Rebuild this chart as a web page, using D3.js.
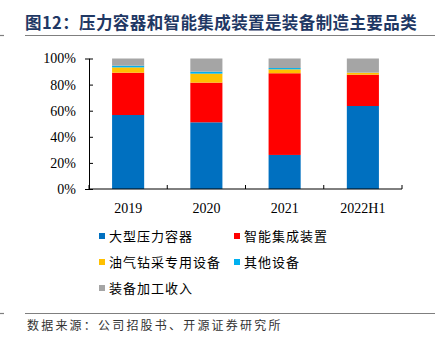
<!DOCTYPE html>
<html><head><meta charset="utf-8">
<script src="https://cdn.jsdelivr.net/npm/d3@7"></script>
<style>body{margin:0;background:#fff}</style>
</head><body>
<script>
const categories = ["2019","2020","2021","2022H1"];
const seriesNames = ["大型压力容器","智能集成装置","油气钻采专用设备","其他设备","装备加工收入"];
const seriesColors = ["#0070C0","#FF0000","#FFC000","#00B0F0","#A5A5A5"];
const vLarge = [56.7, 51.1, 26.1, 63.6];
const vSmart = [32.4, 30.4, 62.6, 24.0];
const vOil   = [4.1, 6.9, 3.0, 1.5];
const vOther = [1.3, 1.5, 1.0, 0.1];
const vProc  = [5.5, 10.1, 7.3, 10.8];
const yTicks = [0,20,40,60,80,100];
const titleText = "图12：压力容器和智能集成装置是装备制造主要品类";
const sourceText = "数据来源：公司招股书、开源证券研究所";

const W=444,H=338;
const svg=d3.select("body").append("svg").attr("width",W).attr("height",H);
const cjk="'Noto Sans CJK SC','Noto Sans',sans-serif";
const serif="'Liberation Serif','Times New Roman',serif";

// title
svg.append("text").attr("x",25).attr("y",29).text(titleText)
  .attr("font-family",cjk).attr("font-weight","bold").attr("font-size",16.5).attr("letter-spacing",0.4).attr("fill","#1F3864");
[[25,435],[0,4]].forEach(([a,b])=>{
  svg.append("line").attr("x1",a).attr("x2",b).attr("y1",35.5).attr("y2",35.5).attr("stroke","#7f7f7f").attr("stroke-width",1.2);
  svg.append("line").attr("x1",a).attr("x2",b).attr("y1",313.5).attr("y2",313.5).attr("stroke","#7f7f7f").attr("stroke-width",1.2);
});
svg.append("text").attr("x",27).attr("y",330).text(sourceText)
  .attr("font-family",cjk).attr("font-size",12).attr("letter-spacing",2.2).attr("fill","#333");

const x=d3.scaleBand().domain(categories).range([89,402]).paddingInner(0.59).paddingOuter(0.295);
const y=d3.scaleLinear().domain([0,100]).range([189,58.5]);

const data=categories.map((c,i)=>({cat:c,v:[vLarge[i],vSmart[i],vOil[i],vOther[i],vProc[i]]}));
const stacked=d3.stack().keys([0,1,2,3,4]).value((d,k)=>d.v[k])(data);

const g=svg.append("g");
stacked.forEach((s,k)=>{
  g.selectAll(null).data(s).enter().append("rect")
    .attr("x",d=>x(d.data.cat)).attr("width",x.bandwidth())
    .attr("y",d=>y(Math.min(d[1],100))).attr("height",d=>Math.max(0,y(d[0])-y(Math.min(d[1],100))))
    .attr("fill",seriesColors[k]);
});

// y axis
const ya=svg.append("g").attr("transform","translate(89,0)").call(d3.axisLeft(y).tickValues(yTicks).tickFormat(d=>d+"%").tickSize(4));
ya.select(".domain").attr("stroke","#000");
ya.selectAll("text").attr("font-family",serif).attr("font-size",14).attr("fill","#000").attr("x",-13);
ya.selectAll(".tick line").attr("x2",4).attr("stroke","#000");

// x axis
const xa=svg.append("g").attr("transform","translate(0,189)");
xa.append("line").attr("x1",89).attr("x2",402).attr("stroke","#000");
const step=x.step();
d3.range(categories.length+1).forEach(i=>{
  const px=89+i*step;
  xa.append("line").attr("x1",px).attr("x2",px).attr("y1",0).attr("y2",-4).attr("stroke","#000");
});
xa.selectAll("text.xl").data(categories).enter().append("text")
  .attr("x",d=>x(d)+x.bandwidth()/2).attr("y",24).attr("text-anchor","middle")
  .attr("font-family",serif).attr("font-size",14).attr("fill","#000").text(d=>d);

// legend
const legPos=[[99,236],[234,236],[99,262],[234,262],[99,288]];
seriesNames.forEach((n,k)=>{
  const [lx,ly]=legPos[k];
  svg.append("rect").attr("x",lx).attr("y",ly-3).attr("width",6).attr("height",6).attr("fill",seriesColors[k]);
  svg.append("text").attr("x",lx+10).attr("y",ly+5).text(n)
    .attr("font-family",cjk).attr("font-size",13).attr("letter-spacing",1).attr("fill","#000");
});
</script>
</body></html>
